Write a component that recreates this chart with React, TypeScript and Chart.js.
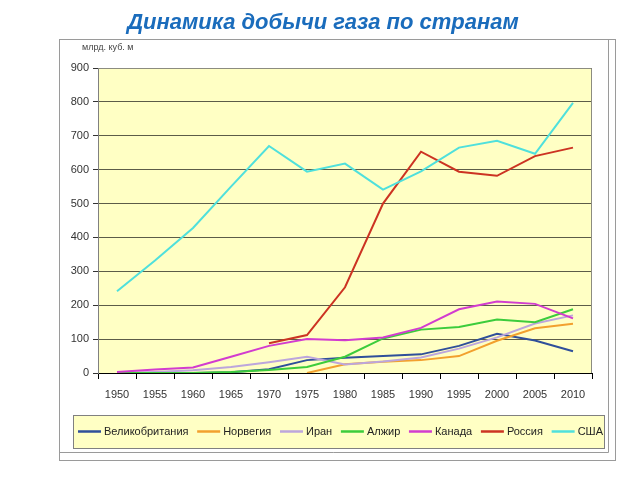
import React, { useEffect, useRef } from "react";
import { Chart, registerables } from "chart.js";

Chart.register(...registerables);

const years = ["1950", "1955", "1960", "1965", "1970", "1975", "1980", "1985", "1990", "1995", "2000", "2005", "2010"];
const seriesNames = ["Великобритания", "Норвегия", "Иран", "Алжир", "Канада", "Россия", "США"];
const seriesColors = ["#2f4f9a", "#f2a02e", "#bca6dc", "#3ccc3c", "#d23ccf", "#cc3322", "#4fe0dc"];

const ukValues = [0, 0, 0, 2, 11, 38, 45, 50, 55, 80, 116, 96, 64];
const norwayValues = [null, null, null, null, null, 0, 26, 33, 38, 50, 95, 132, 145];
const iranValues = [0, 3, 8, 18, 32, 48, 25, 34, 46, 72, 105, 146, 170];
const algeriaValues = [0, 0, 0, 3, 9, 18, 48, 102, 128, 136, 158, 150, 188];
const canadaValues = [3, 10, 16, 48, 80, 100, 97, 105, 133, 188, 211, 204, 161];
const russiaValues = [null, null, null, null, 88, 112, 253, 500, 653, 594, 582, 640, 665];
const usaValues = [241, 332, 428, 550, 670, 594, 618, 541, 595, 665, 685, 647, 797];

const yTicks = [0, 100, 200, 300, 400, 500, 600, 700, 800, 900];

const titleText = "Динамика добычи газа по странам";
const unitText = "млрд. куб. м";

const allValues = [ukValues, norwayValues, iranValues, algeriaValues, canadaValues, russiaValues, usaValues];

const FONT = '"Liberation Sans", Arial, sans-serif';

const decorPlugin = {
  id: "decor",
  beforeDraw(chart: any) {
    const { ctx, chartArea } = chart;
    ctx.save();
    ctx.fillStyle = "#FFFFC4";
    ctx.fillRect(chartArea.left, chartArea.top, chartArea.right - chartArea.left, chartArea.bottom - chartArea.top);
    ctx.restore();
  },
  afterDraw(chart: any) {
    const { ctx, chartArea } = chart;
    ctx.save();
    // outer frame
    ctx.strokeStyle = "#9a9a9a";
    ctx.lineWidth = 1;
    ctx.strokeRect(59.5, 39.5, 556, 421);
    ctx.beginPath();
    ctx.moveTo(608.5, 40);
    ctx.lineTo(608.5, 452.5);
    ctx.moveTo(59, 452.5);
    ctx.lineTo(608.5, 452.5);
    ctx.stroke();

    // plot border (top/right)
    ctx.strokeStyle = "#8c8c80";
    ctx.beginPath();
    ctx.moveTo(chartArea.left, chartArea.top + 0.5);
    ctx.lineTo(chartArea.right - 0.5, chartArea.top + 0.5);
    ctx.lineTo(chartArea.right - 0.5, chartArea.bottom);
    ctx.stroke();

    // title
    ctx.fillStyle = "#1a6cbc";
    ctx.font = "bold italic 22px " + FONT;
    ctx.textAlign = "center";
    ctx.textBaseline = "alphabetic";
    ctx.fillText(titleText, 323, 29);

    // unit label
    ctx.fillStyle = "#444";
    ctx.font = "9px " + FONT;
    ctx.textAlign = "left";
    ctx.textBaseline = "middle";
    ctx.fillText(unitText, 82, 48);

    // legend box
    const bx = 73, by = 415, bw = 531, bh = 33;
    ctx.fillStyle = "#FFFFC4";
    ctx.fillRect(bx, by, bw, bh);
    ctx.strokeStyle = "#808080";
    ctx.strokeRect(bx + 0.5, by + 0.5, bw, bh);

    ctx.font = "11px " + FONT;
    const lineLen = 23;
    const gapText = 3;
    const widths = seriesNames.map((n) => ctx.measureText(n).width);
    const startX = 78;
    const endX = 603;
    const total = widths.reduce((a, w) => a + lineLen + gapText + w, 0);
    const gap = (endX - startX - total) / (seriesNames.length - 1);
    let x = startX;
    const cy = 431.5;
    seriesNames.forEach((n, i) => {
      ctx.strokeStyle = seriesColors[i];
      ctx.lineWidth = 2.5;
      ctx.beginPath();
      ctx.moveTo(x, cy);
      ctx.lineTo(x + lineLen, cy);
      ctx.stroke();
      ctx.fillStyle = "#222";
      ctx.textAlign = "left";
      ctx.textBaseline = "middle";
      ctx.fillText(n, x + lineLen + gapText, cy);
      x += lineLen + gapText + widths[i] + gap;
    });
    ctx.restore();
  },
};

export default function App() {
  const canvasRef = useRef<HTMLCanvasElement | null>(null);

  useEffect(() => {
    const canvas = canvasRef.current;
    if (!canvas) return;
    const chart = new Chart(canvas, {
      type: "line",
      data: {
        labels: years,
        datasets: seriesNames.map((name, i) => ({
          label: name,
          data: allValues[i],
          borderColor: seriesColors[i],
          backgroundColor: seriesColors[i],
          borderWidth: 2,
          pointRadius: 0,
          tension: 0,
          fill: false,
          spanGaps: false,
          order: seriesNames.length - i,
        })),
      },
      options: {
        animation: false,
        responsive: false,
        devicePixelRatio: 1,
        layout: { padding: { left: 60, right: 48, top: 68, bottom: 77 } },
        plugins: {
          legend: { display: false },
          title: { display: false },
          tooltip: { enabled: false },
        },
        scales: {
          x: {
            type: "category",
            offset: true,
            grid: {
              offset: true,
              drawOnChartArea: false,
              drawTicks: true,
              tickLength: 6,
              tickColor: "#000",
            },
            border: { display: true, color: "#000", width: 1 },
            ticks: {
              autoSkip: false,
              maxRotation: 0,
              padding: 9,
              color: "#333",
              font: { size: 11, family: FONT },
            },
            afterFit(scale: any) {
              scale.height = 30;
            },
          },
          y: {
            min: 0,
            max: 900,
            afterBuildTicks(scale: any) {
              scale.ticks = yTicks.map((v) => ({ value: v }));
            },
            grid: {
              color: "#5c5c48",
              lineWidth: 1,
              tickLength: 5,
              tickColor: "#333",
            },
            border: { display: true, color: "#808080", width: 1 },
            ticks: {
              padding: 4,
              color: "#333",
              font: { size: 11, family: FONT },
            },
            afterFit(scale: any) {
              scale.width = 38;
            },
          },
        },
      },
      plugins: [decorPlugin],
    });
    return () => chart.destroy();
  }, []);

  return (
    <div style={{ position: "absolute", left: 0, top: 0, width: 640, height: 480, background: "#fff" }}>
      <canvas ref={canvasRef} width={640} height={480} style={{ display: "block" }} />
    </div>
  );
}
